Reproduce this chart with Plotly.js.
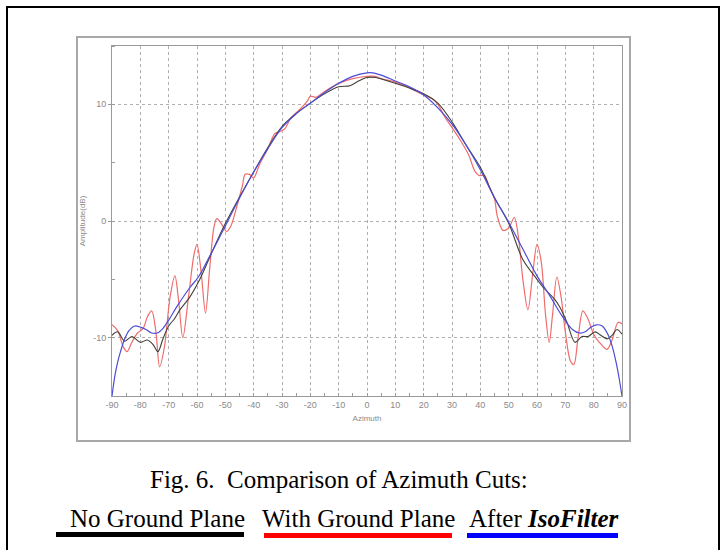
<!DOCTYPE html>
<html>
<head>
<meta charset="utf-8">
<script src="https://cdn.plot.ly/plotly-3.0.1.min.js"></script>
<style>
  html, body { margin: 0; padding: 0; background: #fff; }
  #chart { width: 721px; height: 550px; }
</style>
</head>
<body>
<div id="chart"></div>
<script>
// ---- Data (Azimuth in degrees, Amplitude in dB) ----
const redAz = [-90,-88,-86,-84.7,-83,-81,-79,-77.5,-76,-74.5,-73.2,-71.5,-69.5,-67.8,-66.5,-65,-63,-61,-60,-58.5,-57,-55.5,-54,-53,-51.5,-49.5,-48,-46,-44,-43,-41.5,-40,-38,-35,-32.5,-30.5,-29,-27,-24,-21,-20,-18,-15,-10,-5,0,3,5,10,15,20,23,25,27.5,30,33,36,38,39.5,41.5,43,45,46,48,50,52,53.5,55,56.8,58.5,60,61.5,63,64.3,65.5,67,68.5,70,71.8,73,74.5,76.2,78,80,82,84.7,86.5,88.6,90];
const redAmp = [-8.9,-9.4,-10.8,-11.2,-10.4,-9.6,-9.2,-8.2,-7.7,-9.5,-12.5,-10.8,-6.5,-4.7,-6.8,-10.0,-6.5,-2.8,-2.0,-4.5,-7.9,-4.0,-0.5,0.2,-0.2,-0.9,-0.4,1.2,3.0,4.0,4.0,3.7,4.8,6.2,7.5,7.7,7.9,8.8,9.5,10.3,10.7,10.6,11.1,11.8,12.2,12.4,12.4,12.2,11.9,11.4,10.8,10.5,10.0,8.9,8.0,6.9,5.6,4.3,3.9,3.9,3.0,1.9,0.4,-0.8,-0.6,0.3,-1.5,-5.0,-7.6,-4.5,-2.0,-3.5,-8.0,-10.4,-8.0,-4.8,-6.5,-9.5,-12.0,-12.3,-10.0,-7.7,-8.4,-9.7,-10.4,-11.0,-10.2,-8.7,-8.8];

const blackAz = [-90,-88,-85.5,-83,-80,-77.5,-75.5,-73.8,-72,-70,-68,-66,-62.5,-59,-55.5,-51,-46,-40,-35,-30,-25,-20,-15,-10,-6,-3,0,3,6,10,15,20,25,30,35,40,45,50,55,60,62.2,66.2,68.1,70.6,73.4,75.9,78,80.5,82.5,84.7,86.5,88.2,90];
const blackAmp = [-9.8,-9.5,-10.3,-9.9,-10.4,-10.2,-10.6,-11.2,-10.1,-9.0,-8.4,-7.6,-6.5,-5.0,-3.1,-0.7,1.6,4.2,6.3,8.1,9.2,10.1,10.9,11.5,11.6,12.0,12.3,12.3,12.1,11.8,11.4,10.9,10.1,8.5,6.5,4.6,2.0,-0.2,-3.3,-5.0,-5.7,-6.7,-7.4,-8.7,-10.4,-9.9,-9.9,-9.5,-9.8,-10.1,-9.8,-9.3,-9.7];

const blueAz = [-90,-89,-88,-87,-85.5,-84,-82,-80,-78,-76,-74,-72,-70,-67,-62.5,-59.5,-55.5,-51,-46,-40,-35,-30,-25,-20,-15,-10,-5,0,2,5,10,15,20,25,30,35,40,45,50,55,60,64.5,69,72.5,75,77,79,81,83,85,86.5,88,89,90];
const blueAmp = [-15,-13.3,-12.1,-11.2,-10.1,-9.4,-9.0,-9.1,-9.3,-9.6,-9.6,-9.2,-8.5,-7.3,-5.7,-4.8,-3.0,-0.9,1.5,4.2,6.2,8.0,9.2,10.1,11.0,11.8,12.4,12.7,12.7,12.5,12.0,11.5,10.8,9.7,8.3,6.5,4.4,2.0,-0.1,-2.4,-4.7,-6.4,-8.2,-9.3,-9.6,-9.5,-9.1,-8.9,-9.0,-9.7,-10.7,-12.2,-13.5,-15];

const xTicks = [-90,-80,-70,-60,-50,-40,-30,-20,-10,0,10,20,30,40,50,60,70,80,90];
const yTicks = [-10,0,10];

const captionLine1 = 'Fig. 6.&nbsp; Comparison of Azimuth Cuts:';
const legendNames = ['No Ground Plane', 'With Ground Plane', 'After <b><i>IsoFilter</i></b>'];

// ---- Layout helpers (pixel -> paper) ----
const W = 721, H = 550;
const M = {l: 112, r: W - 622, t: 46, b: H - 396};
const pw = W - M.l - M.r, ph = H - M.t - M.b;
const px = v => (v - M.l) / pw;
const py = v => (H - M.b - v) / ph;

const traces = [
  {x: redAz, y: redAmp, name: 'With Ground Plane', type: 'scatter', mode: 'lines',
   line: {color: '#ef6c6c', width: 1.2, shape: 'spline', smoothing: 0.9}},
  {x: blackAz, y: blackAmp, name: 'No Ground Plane', type: 'scatter', mode: 'lines',
   line: {color: '#404036', width: 1.1, shape: 'spline', smoothing: 0.9}},
  {x: blueAz, y: blueAmp, name: 'After IsoFilter', type: 'scatter', mode: 'lines',
   line: {color: '#4c4cd8', width: 1.2, shape: 'spline', smoothing: 0.9}}
];

const SANS = "'Liberation Sans', Arial, sans-serif";
const SERIF = "'Liberation Serif', 'Times New Roman', serif";
const tickFont = {family: SANS, size: 9, color: '#8a8a8a'};

const shapes = [
  // outer black frame
  {type: 'rect', xref: 'paper', yref: 'paper', x0: px(7), x1: px(719), y0: py(565), y1: py(7),
   line: {color: '#000', width: 2}, layer: 'below'},
  // chart panel
  {type: 'rect', xref: 'paper', yref: 'paper', x0: px(77), x1: px(630), y0: py(441), y1: py(37),
   line: {color: '#a8a8a8', width: 2}, fillcolor: '#ffffff', layer: 'below'},
  // legend underlines
  {type: 'line', xref: 'paper', yref: 'paper', x0: px(56), x1: px(244), y0: py(534.5), y1: py(534.5),
   line: {color: '#000000', width: 5}},
  {type: 'line', xref: 'paper', yref: 'paper', x0: px(264), x1: px(452), y0: py(535.5), y1: py(535.5),
   line: {color: '#ff0000', width: 5}},
  {type: 'line', xref: 'paper', yref: 'paper', x0: px(467), x1: px(618), y0: py(535.5), y1: py(535.5),
   line: {color: '#0000ff', width: 5}}
];

function capFont() { return {family: SERIF, size: 25, color: '#000'}; }
const annotations = [
  {xref: 'paper', yref: 'paper', x: px(148), y: py(479), xanchor: 'left', yanchor: 'middle',
   text: captionLine1, showarrow: false, font: capFont()},
  {xref: 'paper', yref: 'paper', x: px(68), y: py(518), xanchor: 'left', yanchor: 'middle',
   text: legendNames[0], showarrow: false, font: capFont()},
  {xref: 'paper', yref: 'paper', x: px(260), y: py(518), xanchor: 'left', yanchor: 'middle',
   text: legendNames[1], showarrow: false, font: capFont()},
  {xref: 'paper', yref: 'paper', x: px(467), y: py(518), xanchor: 'left', yanchor: 'middle',
   text: legendNames[2], showarrow: false, font: capFont()}
];

const layout = {
  width: W, height: H,
  margin: M,
  paper_bgcolor: '#ffffff',
  plot_bgcolor: '#ffffff',
  showlegend: false,
  font: {family: SANS},
  xaxis: {
    range: [-90, 90], tickvals: xTicks, ticktext: xTicks.map(String),
    showgrid: true, gridcolor: '#b0b0b0', griddash: 'dot', gridwidth: 1,
    showline: true, linecolor: '#9a9a9a', linewidth: 1, mirror: true,
    ticks: 'inside', ticklen: 3, tickcolor: '#9a9a9a',
    minor: {dtick: 5, ticks: 'inside', ticklen: 3, tickcolor: '#9a9a9a', showgrid: false},
    zeroline: false, tickfont: tickFont,
    title: {text: 'Azimuth', font: {family: SANS, size: 8, color: '#8a8a8a'}, standoff: 6},
    automargin: false
  },
  yaxis: {
    range: [-15, 15], tickvals: yTicks, ticktext: yTicks.map(String),
    showgrid: true, gridcolor: '#b0b0b0', griddash: 'dot', gridwidth: 1,
    showline: true, linecolor: '#9a9a9a', linewidth: 1, mirror: true,
    ticks: 'outside', ticklen: 3, tickcolor: '#9a9a9a',
    minor: {dtick: 5, ticks: 'inside', ticklen: 3, tickcolor: '#9a9a9a', showgrid: false},
    zeroline: false, tickfont: tickFont,
    title: {text: 'Amplitude(dB)', font: {family: SANS, size: 8, color: '#8a8a8a'}, standoff: 6},
    automargin: false
  },
  shapes: shapes,
  annotations: annotations
};

Plotly.newPlot('chart', traces, layout, {staticPlot: true, displayModeBar: false});
</script>
</body>
</html>
